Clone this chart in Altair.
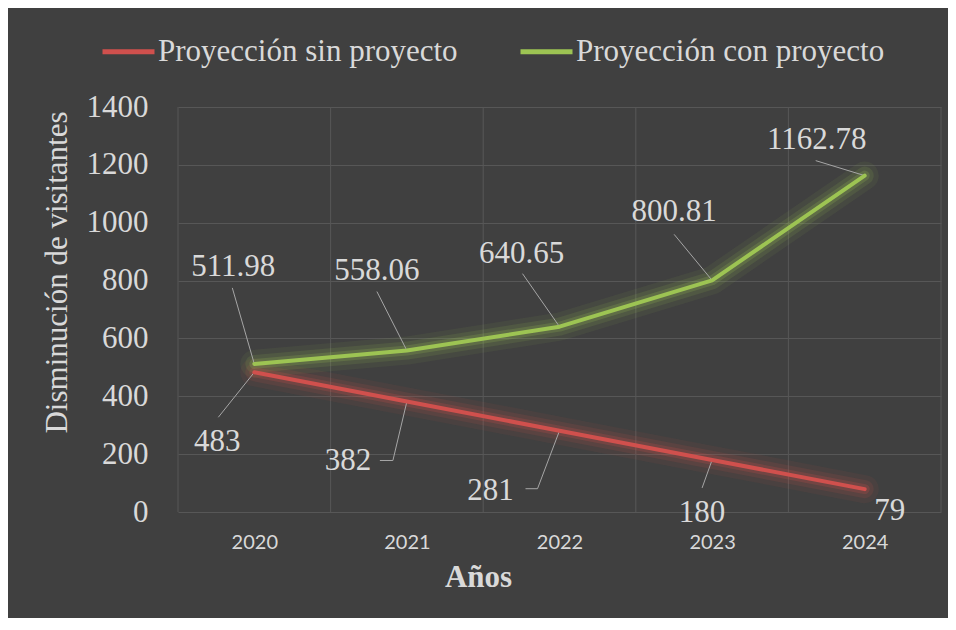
import altair as alt
import pandas as pd

# ---------------- data ----------------
years = [2020, 2021, 2022, 2023, 2024]
sin_proyecto = [483, 382, 281, 180, 79]
con_proyecto = [511.98, 558.06, 640.65, 800.81, 1162.78]
series_names = ["Proyección sin proyecto", "Proyección con proyecto"]
y_ticks = [0, 200, 400, 600, 800, 1000, 1200, 1400]

# ---------------- styling ----------------
RED = "#D0504D"
GREEN = "#9DC453"
BG = "#404040"
TXT = "#D9D9D9"
GRID = "#575757"
LEADER = "#A6A6A6"
SERIF = "Liberation Serif"
SANS = "Lato"
FS = 31

PLOT_W, PLOT_H = 763, 405
PAD_L, PAD_T = 170, 99
TOTAL_W, TOTAL_H = 940, 610
YMAX = 1400

# label placement (pixel offsets from each point)
green_label_off = [(-21, -97), (-30, -80), (-38, -73), (-38, -68), (-48, -36)]
green_leader = [[(-22, -76)], [(-30, -59)], [(-37, -53)], [(-38, -46)], [(-49, -15)]]
red_label_off = [(-37, 70), (-59, 60), (-69, 60), (-10, 53), (25, 22)]
red_leader = [[(-36, 45)], [(-14, 59), (-27, 59)], [(-22, 58), (-34, 58)], [(-10, 28)], []]

px_per_year = PLOT_W / len(years)
px_per_unit = PLOT_H / YMAX


def dx_year(px):
    return px / px_per_year


def dy_val(px):
    return -px / px_per_unit


rows, labels, leaders = [], [], []
for name, vals, fmt, loffs, leads in [
    (series_names[0], sin_proyecto, "{:.0f}", red_label_off, red_leader),
    (series_names[1], con_proyecto, "{:.2f}", green_label_off, green_leader),
]:
    for i, (yr, v) in enumerate(zip(years, vals)):
        rows.append({"year": yr, "value": v, "series": name})
        lx, ly = loffs[i]
        labels.append({"lx": yr + dx_year(lx), "ly": v + dy_val(ly),
                       "text": fmt.format(v), "series": name})
        if leads[i]:
            lid = f"{name}-{yr}"
            pts = [(0, 0)] + leads[i]
            for k, (px, py) in enumerate(pts):
                leaders.append({"id": lid, "k": k, "lx": yr + dx_year(px),
                                "ly": v + dy_val(py)})

df = pd.DataFrame(rows)
df_lab = pd.DataFrame(labels)
df_lead = pd.DataFrame(leaders)
bounds = [y - 0.5 for y in years] + [years[-1] + 0.5]
df_vgrid = pd.DataFrame({"b": bounds})

xscale = alt.Scale(domain=[years[0] - 0.5, years[-1] + 0.5], nice=False, zero=False)
yscale = alt.Scale(domain=[0, YMAX], nice=False)
color_scale = alt.Scale(domain=series_names, range=[RED, GREEN])

legend = alt.Legend(
    title=None, orient="none", direction="horizontal", legendX=-78,
    legendY=-84, symbolType="stroke", symbolSize=2704, symbolStrokeWidth=5,
    symbolOpacity=1,
    labelFont=SERIF, labelFontSize=FS, labelColor=TXT, labelLimit=600,
    labelOffset=1, columnPadding=52, padding=0, columns=2,
)

x_axis = alt.Axis(
    values=years, format="d", grid=False, domain=False, ticks=False, tickSize=0,
    labelFont=SANS, labelFontSize=20, labelColor=TXT, labelPadding=20,
    labelFlush=False,
    title="Años", titleFont=SERIF, titleFontSize=FS, titleFontWeight="bold",
    titleColor=TXT, titleX=300, titleY=65, titleBaseline="middle", titleAlign="center",
)
y_axis = alt.Axis(
    values=y_ticks, format="d", grid=True, gridColor=GRID, gridWidth=1, domain=False,
    ticks=False, tickSize=0, labelFont=SERIF, labelFontSize=FS, labelColor=TXT,
    labelPadding=30,
    title="Disminución de visitantes", titleFont=SERIF, titleFontSize=FS,
    titleFontWeight="normal", titleColor=TXT, titleX=-112, titleY=165,
    titleAngle=-90, titleAlign="center", titleBaseline="alphabetic",
)

vgrid = alt.Chart(df_vgrid).mark_rule(color=GRID, strokeWidth=1).encode(
    x=alt.X("b:Q", scale=xscale, axis=x_axis)
)

base = alt.Chart(df)


def glow(width, opacity):
    return base.mark_line(strokeWidth=width, opacity=opacity, strokeCap="round",
                          strokeJoin="round").encode(
        x=alt.X("year:Q", scale=xscale),
        y=alt.Y("value:Q", scale=yscale, axis=y_axis),
        color=alt.Color("series:N", scale=color_scale, legend=legend),
    )


glow1 = glow(28, 0.07)
glow2 = glow(18, 0.12)
glow3 = glow(10, 0.2)

main = base.mark_line(strokeWidth=4, strokeCap="round", strokeJoin="round").encode(
    x=alt.X("year:Q", scale=xscale),
    y=alt.Y("value:Q", scale=yscale, axis=y_axis),
    color=alt.Color("series:N", scale=color_scale, legend=legend),
)

leader = alt.Chart(df_lead).mark_line(color=LEADER, strokeWidth=1).encode(
    x=alt.X("lx:Q", scale=xscale),
    y=alt.Y("ly:Q", scale=yscale, axis=y_axis),
    detail="id:N",
    order="k:Q",
)

text = alt.Chart(df_lab).mark_text(
    font=SERIF, fontSize=FS, color=TXT, align="center", baseline="middle"
).encode(
    x=alt.X("lx:Q", scale=xscale),
    y=alt.Y("ly:Q", scale=yscale, axis=y_axis),
    text="text:N",
)

chart = alt.layer(vgrid, glow1, glow2, glow3, leader, main, text).properties(
    width=PLOT_W,
    height=PLOT_H,
    background=BG,
    padding={"left": PAD_L, "top": PAD_T,
             "right": TOTAL_W - PAD_L - PLOT_W, "bottom": TOTAL_H - PAD_T - PLOT_H},
    autosize=alt.AutoSizeParams(type="none"),
).configure_view(stroke=None)

chart.save("out.html", embed_options={"renderer": "svg", "actions": False})
